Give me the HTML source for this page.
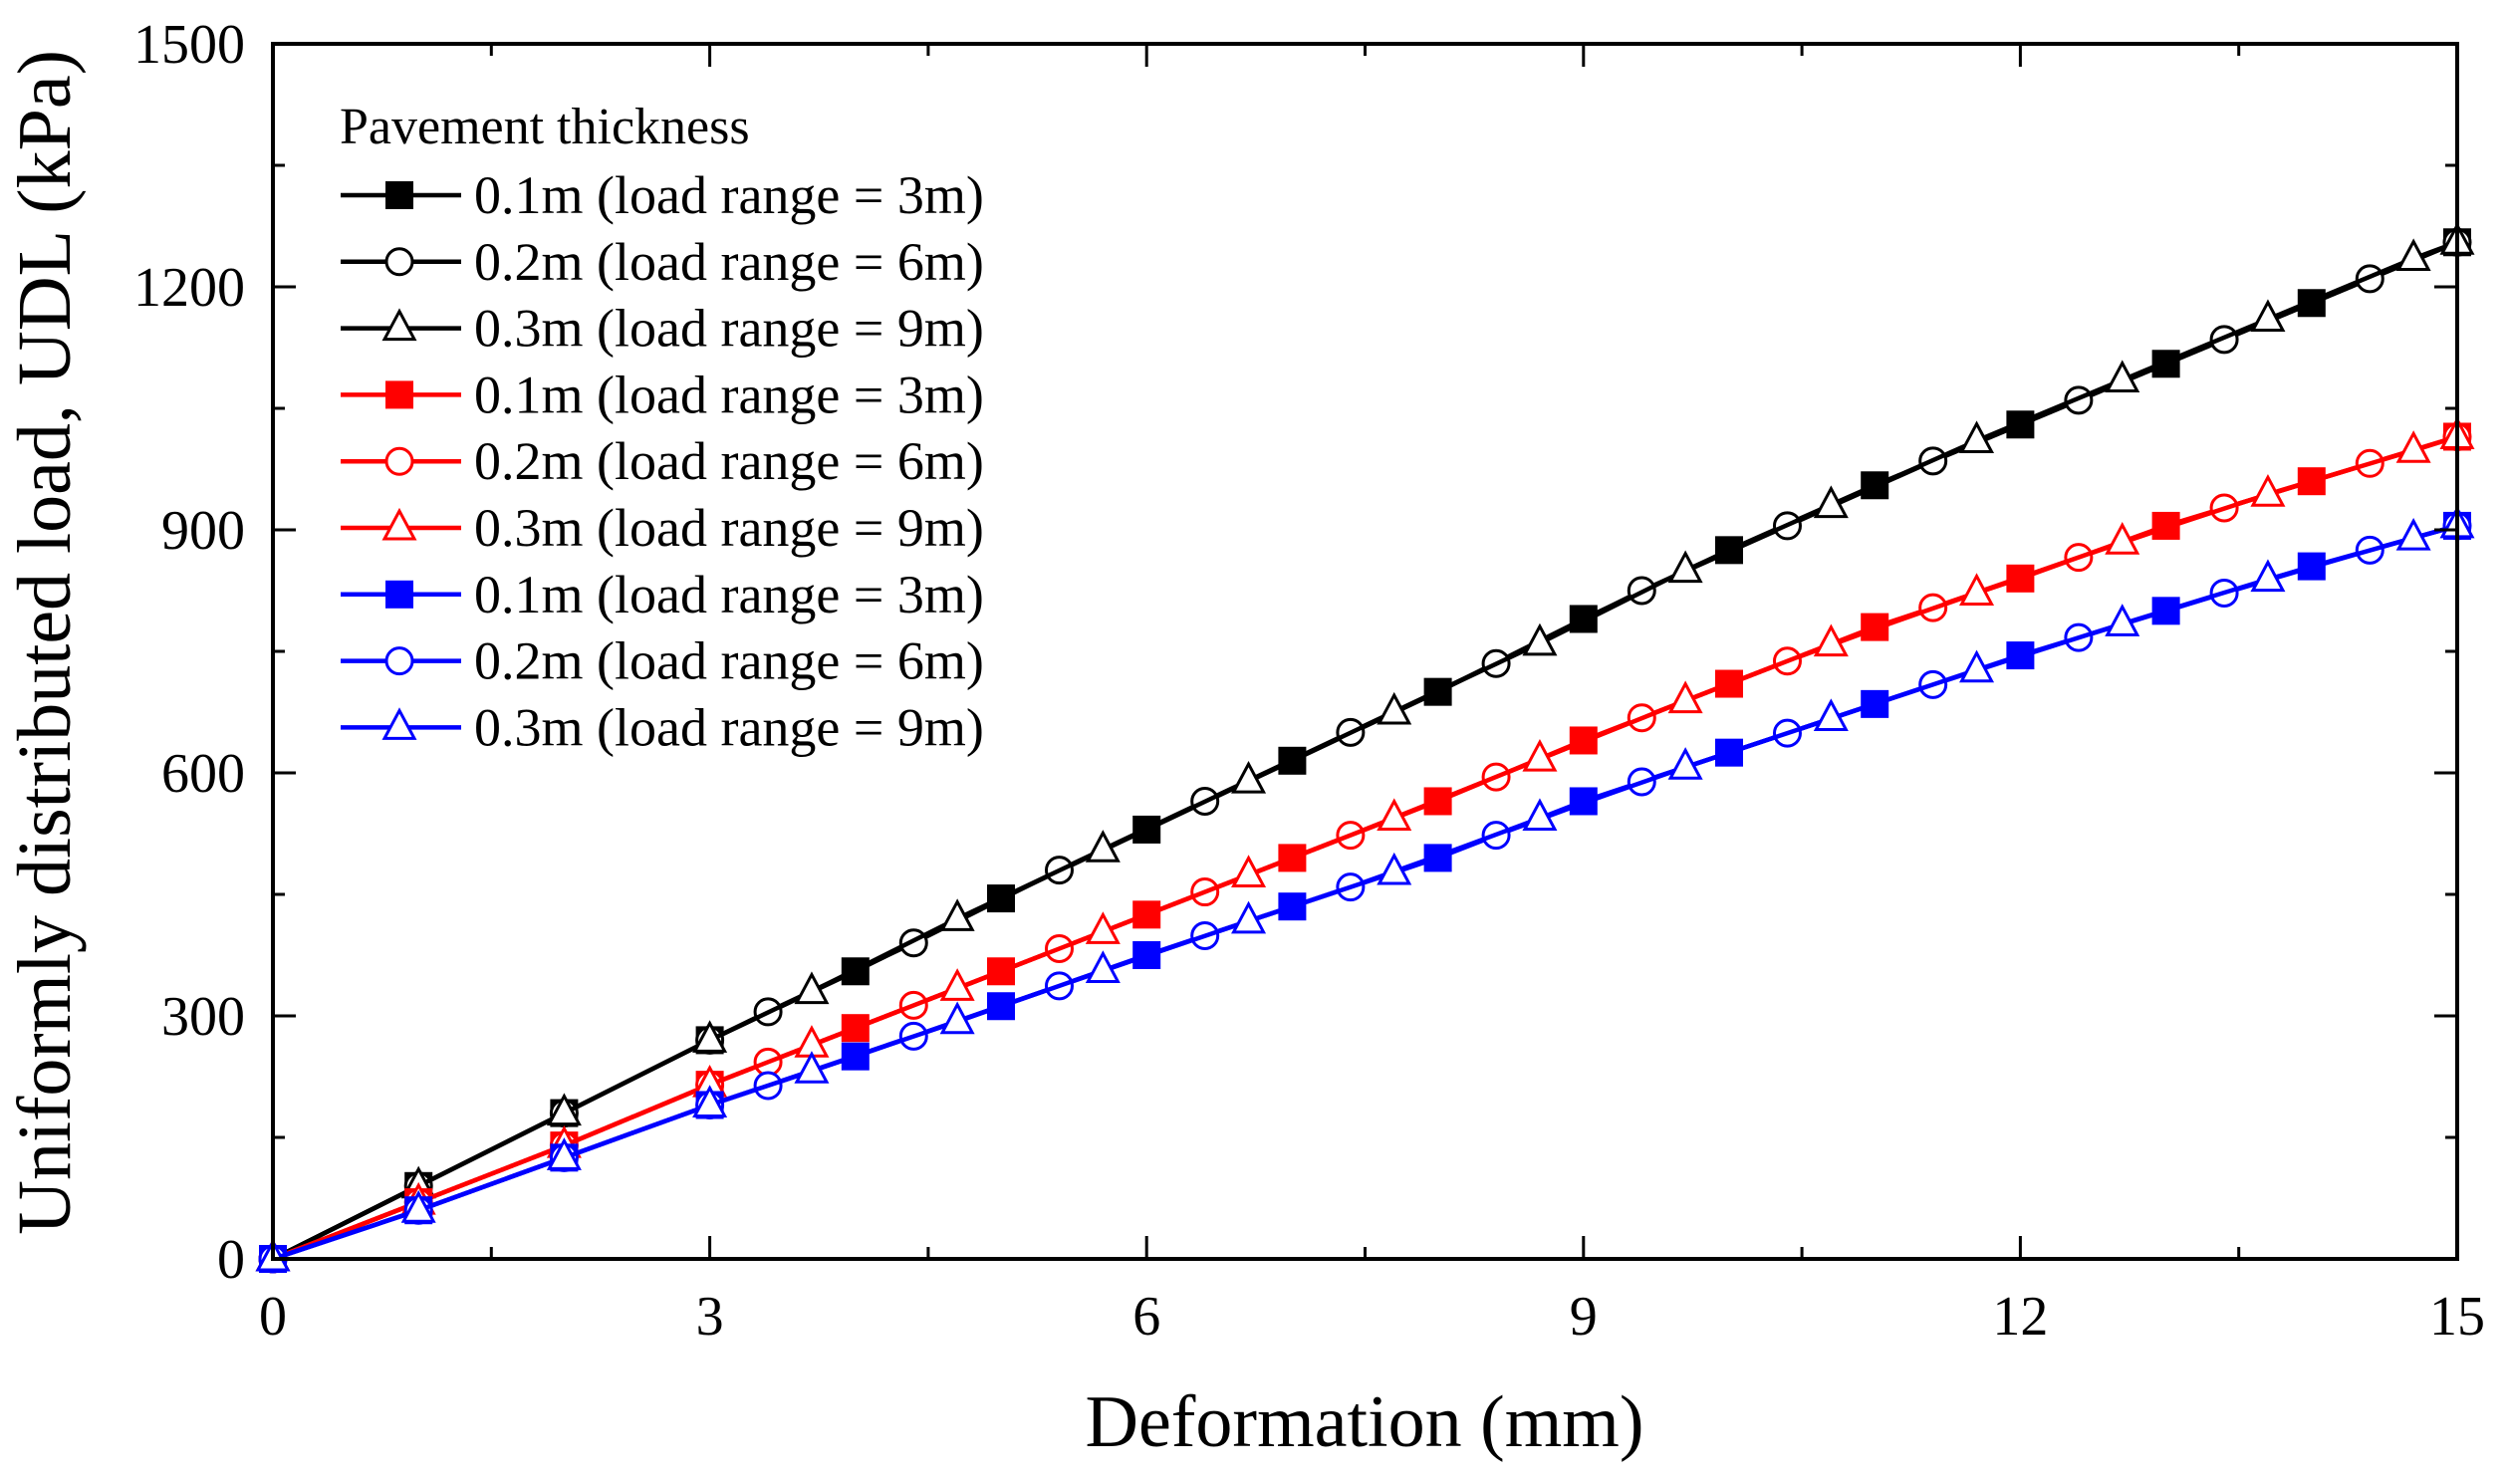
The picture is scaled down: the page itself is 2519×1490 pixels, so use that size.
<!DOCTYPE html>
<html><head><meta charset="utf-8"><style>
html,body{margin:0;padding:0;background:#fff}
svg{display:block;font-family:"Liberation Serif",serif}
</style></head><body>
<svg id="chart" width="2519" height="1490" viewBox="0 0 2519 1490" xmlns="http://www.w3.org/2000/svg">
<g id="plot"></g>
<g id="axes"></g>
<g id="legend"></g>
<text x="1370" y="1452" font-size="74" text-anchor="middle">Deformation (mm)</text>
<text transform="translate(70,645) rotate(-90)" font-size="76" text-anchor="middle">Uniformly distributed load, UDL (kPa)</text>
</svg>
<script>
const xTicks=[0,3,6,9,12,15];
const yTicks=[0,300,600,900,1200,1500];
const xInt=[0,1,2,3,4,5,6,7,8,9,10,11,12,13,14,15];
const xP4=[0,1,2,3,3.4,4.4,5.4,6.4,7.4,8.4,9.4,10.4,11.4,12.4,13.4,14.4,15];
const xP7=[0,1,2,3,3.7,4.7,5.7,6.7,7.7,8.7,9.7,10.7,11.7,12.7,13.7,14.7,15];
const black01=[0,90,180,270,355,445,530,615,700,790,875,955,1030,1105,1180,1255];
const black02=[0,90,180,270,305,390,480,565,650,735,825,905,985,1060,1135,1210,1255];
const black03=[0,90,180,270,330,420,505,590,675,760,850,930,1010,1085,1160,1235,1255];
const red01=[0,70,140,215,285,355,425,495,565,640,710,780,840,905,960,1015];
const red02=[0,70,140,215,243,313,383,453,523,595,668,738,804,866,927,982,1015];
const red03=[0,70,140,215,264,334,404,474,544,617,689,759,822,885,944,998,1015];
const blue01=[0,60,125,190,250,312,375,435,495,565,625,685,745,800,855,905];
const blue02=[0,60,125,190,214,275,337,399,459,523,589,649,709,767,822,875,905];
const blue03=[0,60,125,190,232,293,356,417,477,544,607,667,727,784,839,890,905];
const legendLabels=["0.1m (load range = 3m)","0.2m (load range = 6m)","0.3m (load range = 9m)"];

const L=274,R=2467,T=44,B=1264;
const xs=v=>L+(v/15)*(R-L);
const ys=v=>B-(v/1500)*(B-T);
const NS="http://www.w3.org/2000/svg";
function mk(tag,attrs,parent){const e=document.createElementNS(NS,tag);for(const k in attrs)e.setAttribute(k,attrs[k]);parent.appendChild(e);return e;}
const plot=document.getElementById('plot'),axes=document.getElementById('axes'),legend=document.getElementById('legend');

function marker(type,cx,cy,color,parent){
  let e;
  if(type==='square'){e=mk('rect',{x:cx-13,y:cy-13,width:26,height:26,fill:color,stroke:color,'stroke-width':2},parent);}
  else if(type==='circle'){e=mk('circle',{cx:cx,cy:cy,r:13,fill:'#fff',stroke:color,'stroke-width':3},parent);}
  else{e=mk('polygon',{points:`${cx},${cy-17} ${cx-15},${cy+11} ${cx+15},${cy+11}`,fill:'#fff',stroke:color,'stroke-width':3},parent);}
  return e;
}
const series=[
 {x:xInt,y:black01,c:'#000',m:'square',l:0},{x:xP4,y:black02,c:'#000',m:'circle',l:1},{x:xP7,y:black03,c:'#000',m:'triangle',l:2},
 {x:xInt,y:red01,c:'#ff0000',m:'square',l:0},{x:xP4,y:red02,c:'#ff0000',m:'circle',l:1},{x:xP7,y:red03,c:'#ff0000',m:'triangle',l:2},
 {x:xInt,y:blue01,c:'#0000ff',m:'square',l:0},{x:xP4,y:blue02,c:'#0000ff',m:'circle',l:1},{x:xP7,y:blue03,c:'#0000ff',m:'triangle',l:2}
];
series.forEach((s,i)=>{
  const g=mk('g',{},plot);
  
  
  const pl=mk('polyline',{points:s.x.map((v,j)=>xs(v)+','+ys(s.y[j])).join(' '),fill:'none',stroke:s.c,'stroke-width':4.5},g);
  
  
  s.x.forEach((v,j)=>{const m=marker(s.m,xs(v),ys(s.y[j]),s.c,g);
    
    });
});
const fr=mk('rect',{x:L,y:T,width:R-L,height:B-T,fill:'none',stroke:'#000','stroke-width':4},axes);


for(let i=0;i<xTicks.length;i++){
  const v=xTicks[i],x=xs(v);
  mk('line',{x1:x,y1:B,x2:x,y2:B-23,stroke:'#000','stroke-width':3},axes);
  mk('line',{x1:x,y1:T,x2:x,y2:T+23,stroke:'#000','stroke-width':3},axes);
  if(i<xTicks.length-1){const xm=xs(v+1.5);
    mk('line',{x1:xm,y1:B,x2:xm,y2:B-12,stroke:'#000','stroke-width':3},axes);
    mk('line',{x1:xm,y1:T,x2:xm,y2:T+12,stroke:'#000','stroke-width':3},axes);}
  const t=mk('text',{x:x,y:1340,'font-size':56,'text-anchor':'middle'},axes);t.textContent=v;
  
  
}
for(let i=0;i<yTicks.length;i++){
  const v=yTicks[i],y=ys(v);
  mk('line',{x1:L,y1:y,x2:L+23,y2:y,stroke:'#000','stroke-width':3},axes);
  mk('line',{x1:R,y1:y,x2:R-23,y2:y,stroke:'#000','stroke-width':3},axes);
  if(i<yTicks.length-1){const ym=ys(v+150);
    mk('line',{x1:L,y1:ym,x2:L+12,y2:ym,stroke:'#000','stroke-width':3},axes);
    mk('line',{x1:R,y1:ym,x2:R-12,y2:ym,stroke:'#000','stroke-width':3},axes);}
  const t=mk('text',{x:246,y:y+19,'font-size':56,'text-anchor':'end'},axes);t.textContent=v;
  
  
}
const lt=mk('text',{x:341,y:144,'font-size':52},legend);lt.textContent='Pavement thickness';


series.forEach((s,i)=>{
  const cy=196+i*66.8;
  const g=mk('g',{},legend);
  
  
  mk('line',{x1:342,y1:cy,x2:463,y2:cy,stroke:s.c,'stroke-width':4.5},g);
  marker(s.m,401,cy,s.c,g);
  const t=mk('text',{x:476,y:cy+18,'font-size':54},g);t.textContent=legendLabels[s.l];
});
</script>
</body></html>
